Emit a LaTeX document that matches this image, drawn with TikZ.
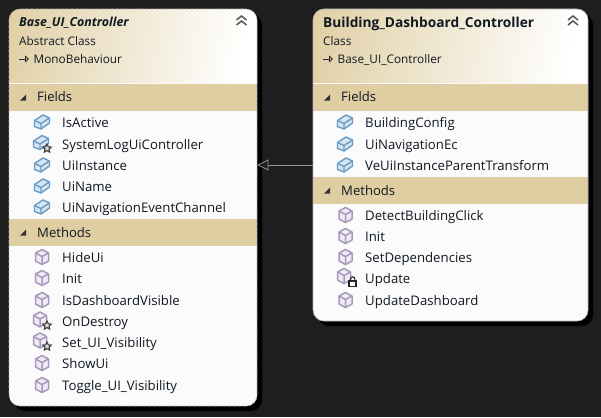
\documentclass[tikz,border=0pt]{standalone}
\usepackage{fontspec}
\setmainfont{Open Sans}
\usetikzlibrary{arrows.meta,shapes.geometric}
\definecolor{bgc}{HTML}{1E1E1E}
\definecolor{band}{HTML}{DFCEA2}
\definecolor{headc}{HTML}{DFCEA2}
\definecolor{bodyc}{HTML}{FBFBFB}
\definecolor{txt}{HTML}{101820}
\definecolor{fieldc}{HTML}{6A9BC3}
\definecolor{fieldf}{HTML}{D5E5F2}
\definecolor{methc}{HTML}{A898BC}
\definecolor{methf}{HTML}{EFEAF4}
\tikzset{
  x=1pt,y=-1pt,
  lbl/.style={anchor=base west,inner sep=0pt,text=txt,font=\fontsize{11.8}{13}\selectfont},
  seclbl/.style={lbl,font=\fontsize{13.1}{14}\selectfont},
  rowlbl/.style={lbl,font=\fontsize{13.2}{14}\selectfont},
  boxnode/.style={draw=none,inner sep=0pt,minimum width=#1},
  fieldico/.pic={
    \draw[fieldc,line width=1.4pt,fill=fieldf,line join=round] (-7.5,-1.5) -- (1,-7) -- (7.5,-4) -- (7.5,1) -- (-1,7) -- (-7.5,4.5) -- cycle;
    \draw[fieldc,line width=1.4pt,line join=round] (-7.5,-1.5) -- (-1,1.5) -- (7.5,-4) (-1,1.5) -- (-1,7);
  },
  methico/.pic={
    \draw[methc,line width=1.5pt,fill=methf,line join=round] (0,-7.5) -- (6.5,-4) -- (6.5,4) -- (0,7.5) -- (-6.5,4) -- (-6.5,-4) -- cycle;
    \draw[methc,line width=1.5pt,line join=round] (-6.5,-4) -- (0,-0.5) -- (6.5,-4) (0,-0.5) -- (0,7.5);
  },
  starov/.pic={
    \node[star,star points=5,star point ratio=2.1,draw=black!75,fill=white!85!black,line width=1.1pt,inner sep=0pt,minimum size=9pt] at (5,4.5) {};
  },
  lockov/.pic={
    \draw[black!85,line width=1.1pt] (6.5,5) -- (6.5,3) arc[start angle=180,end angle=0,radius=2.2pt] -- (10.9,5);
    \draw[black!85,line width=1.1pt,fill=white] (5,5) rectangle (12,10.5);
  },
  chev/.pic={
    \draw[gray!70!black,line width=1.5pt] (-5,0) -- (0,-4) -- (5,0) (-5,5) -- (0,1) -- (5,5);
  },
  tri/.pic={\fill[black!80] (-3,3) -- (3,3) -- (3,-3) -- cycle;},
}
\newcommand{\classbox}[7]{%
 % name, x1, x2, y2, fields top, methods top, style of border
 \fill[black,rounded corners=11pt] (#2+5,14) rectangle (#3+5,#4+5);
 \node[boxnode=#3-#2,minimum height=#4-9,draw=none,fill=bodyc,rounded corners=11pt,anchor=north west] (#1) at (#2,9) {};
 \begin{scope}
  \clip[rounded corners=11pt] (#2,9) rectangle (#3,#4);
  \shade[left color=headc,right color=white,shading angle=80] (#2-30,9) rectangle (#3,83);
 \end{scope}
 \fill[band] (#2,#5) rectangle (#3,#5+27);
 \fill[band] (#2,#6) rectangle (#3,#6+27);
 \draw[#7,rounded corners=11pt] (#2,9) rectangle (#3,#4);
}
\begin{document}
\begin{tikzpicture}
\useasboundingbox (0,0) rectangle (601,417);
\fill[bgc] (0,0) rectangle (601,417);
\classbox{base}{9}{257}{406}{84}{219}{gray!70,densely dashed,line width=.6pt}
\classbox{dash}{313}{588}{321}{84}{177}{gray!60,line width=.6pt}

% Base class texts
\node[lbl,font=\fontsize{12.4}{14}\selectfont\bfseries\itshape] (basetitle) at (19,27) {Base\_UI\_Controller};
\node[lbl] (basekind) at (19,46) {Abstract Class};
\node[lbl] (baseparent) at (33.5,64) {MonoBehaviour};
\node[seclbl] (basefields) at (37,102) {Fields};
\node[seclbl] (basemethods) at (37,237) {Methods};
\pic at (241.5,20) {chev};
\pic at (23,97.5) {tri};
\pic at (23,232.5) {tri};
\draw[black!85,line width=.9pt,-{Triangle[open,length=4pt,width=7pt]}] (19,59) -- (29,59);

\foreach \nm/\y/\t in {bf1/122/IsActive,bf3/165/UiInstance,bf4/186/UiName,bf5/207/UiNavigationEventChannel}{
  \node[rowlbl] (\nm) at (62,\y+5) {\t};
  \pic at (42,\y) {fieldico};
}
\node[rowlbl] (bf2) at (62,149) {SystemLogUiController};
\pic at (41,142.5) {fieldico};
\pic at (42,144) {starov};
\foreach \nm/\y/\t in {bm1/257/HideUi,bm2/278/Init,bm3/300/IsDashboardVisible,bm6/363/ShowUi,bm7/385/Toggle\_UI\_Visibility}{
  \node[rowlbl] (\nm) at (62,\y+5) {\t};
  \pic at (42,\y) {methico};
}
\foreach \nm/\y/\t in {bm4/321/OnDestroy,bm5/342/Set\_UI\_Visibility}{
  \node[rowlbl] (\nm) at (62,\y+5) {\t};
  \pic at (40,\y-1.5) {methico};
  \pic at (42,\y) {starov};
}

% Derived class texts
\node[lbl,font=\fontsize{13.7}{15}\selectfont\bfseries] (dashtitle) at (323,27.5) {Building\_Dashboard\_Controller};
\node[lbl] (dashkind) at (323,46) {Class};
\node[lbl] (dashparent) at (337.5,64) {Base\_UI\_Controller};
\node[seclbl] (dashfields) at (341,102) {Fields};
\node[seclbl] (dashmethods) at (341,195) {Methods};
\pic at (573,20) {chev};
\pic at (327,97.5) {tri};
\pic at (327,190.5) {tri};
\draw[black!85,line width=.9pt,-{Triangle[open,length=4pt,width=7pt]}] (323,59) -- (333,59);

\foreach \nm/\y/\t in {df1/122/BuildingConfig,df2/144/UiNavigationEc,df3/165/VeUiInstanceParentTransform}{
  \node[rowlbl] (\nm) at (365,\y+5) {\t};
  \pic at (345,\y) {fieldico};
}
\foreach \nm/\y/\t in {dm1/215/DetectBuildingClick,dm2/236/Init,dm3/257/SetDependencies,dm5/300/UpdateDashboard}{
  \node[rowlbl] (\nm) at (365,\y+5) {\t};
  \pic at (345.5,\y) {methico};
}
\node[rowlbl] (dm4) at (365,283) {Update};
\pic at (344,276) {methico};
\pic at (344,276) {lockov};

% Inheritance: y of the row the connector runs along
\coordinate (inh) at (285,165);
\draw[gray!85,line width=.8pt,-{Triangle[open,length=11pt,width=11pt]}] (dash.west |- inh) -- (base.east |- inh);
\end{tikzpicture}
\end{document}
